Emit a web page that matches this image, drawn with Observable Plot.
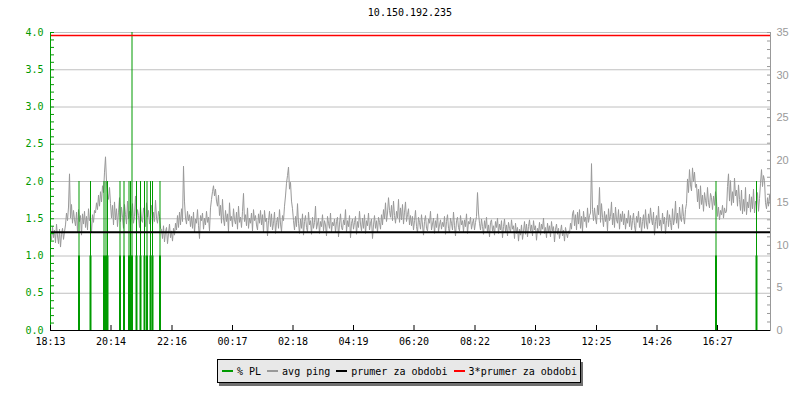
<!DOCTYPE html>
<html>
<head>
<meta charset="utf-8">
<script src="https://cdn.jsdelivr.net/npm/d3@7"></script>
<script src="https://cdn.jsdelivr.net/npm/@observablehq/plot@0.6"></script>
<style>
  body { margin: 0; background: #fff; }
  #wrap { position: relative; width: 800px; height: 400px; font-family: "DejaVu Sans Mono", monospace; }
  #chart { position: absolute; left: 0; top: 0; }
  #title { position: absolute; left: 50px; width: 720px; top: 7px; text-align: center; font-size: 10px; line-height: 12px; color: #000; }
  #legend { position: absolute; left: 217px; top: 359px; height: 22px; display: flex; align-items: center;
            border: 1px solid #000; background: #e8e8e8; box-shadow: 2px 3px 0 #707070; padding: 0 3px 0 4px;
            font-size: 10px; color: #000; white-space: pre; }
  .item { display: flex; align-items: center; margin-right: 6px; }
  .item:last-child { margin-right: 0; }
  .sw { display: inline-block; width: 11px; height: 2px; margin-right: 4px; }
</style>
</head>
<body>
<div id="wrap">
  <div id="chart"></div>
  <div id="title"></div>
  <div id="legend"></div>
</div>
<script>
// ---- data ----
const title = "10.150.192.235";
const tickMinutes = [0, 121, 243, 364, 485, 606, 727, 849, 970, 1092, 1213, 1334];
const tickLabels = ["18:13", "20:14", "22:16", "00:17", "02:18", "04:19", "06:20", "08:22", "10:23", "12:25", "14:26", "16:27"];
const spanMinutes = 1440;
const stepMinutes = 2;
// avg ping in ms, one value every 2 minutes starting 18:13
const avgPing = [
  11.4,10.6,12.2,10.9,11.8,10.3,12.5,11.1,10.2,11.9,9.8,11.3,12.0,10.7,11.6,
  12.4,13.8,12.9,14.5,18.4,13.2,14.8,12.6,14.1,13.0,
  12.3,13.9,11.6,14.2,12.8,13.5,11.2,13.7,12.5,14.0,12.1,13.4,11.8,14.3,12.9,13.1,11.5,13.6,12.7,14.1,
  13.8,15.0,14.2,15.9,14.6,16.3,15.1,17.0,16.2,18.6,20.4,17.5,16.1,15.4,16.8,14.9,
  13.2,14.7,12.4,15.1,13.0,14.3,12.2,13.9,15.6,12.8,14.5,13.3,12.0,14.8,13.6,12.5,15.2,13.1,14.0,12.3,
  13.7,14.9,12.6,13.4,15.8,12.9,14.2,13.5,12.1,14.6,13.0,12.7,14.4,13.8,12.2,15.0,13.3,14.1,12.5,13.6,
  14.7,12.4,13.9,12.8,15.3,13.2,12.6,14.0,13.4,12.0,
  11.9,10.8,12.3,10.4,11.6,12.1,10.2,11.4,12.5,10.9,11.7,10.5,12.0,11.2,
  12.6,11.8,13.5,12.1,13.9,12.4,14.3,12.8,19.3,15.1,13.2,12.5,14.0,12.9,13.6,12.2,
  13.4,12.0,13.9,11.5,13.1,12.6,14.2,12.3,10.8,13.5,12.9,13.8,11.9,13.2,12.4,14.0,12.7,13.3,11.7,14.4,
  15.4,16.3,17.0,15.8,16.6,15.2,14.6,15.9,
  13.5,14.7,12.6,15.4,13.1,12.3,14.1,12.8,13.7,11.6,15.0,12.9,13.4,12.2,14.3,13.0,12.5,13.9,11.9,14.6,
  12.7,13.3,12.1,14.0,16.1,12.8,13.6,12.3,14.4,12.0,13.2,12.6,13.8,11.7,14.2,12.9,13.5,12.4,11.8,13.7,12.6,14.1,
  12.4,13.6,11.5,14.1,12.8,13.2,11.1,12.9,14.0,12.2,13.7,11.8,12.6,13.9,11.4,12.7,13.3,12.0,14.2,12.5,11.6,13.5,12.9,14.6,
  15.8,17.3,18.2,19.2,16.6,17.4,15.2,14.3,
  12.9,11.8,13.4,12.2,14.9,12.6,11.4,13.1,12.0,13.7,
  11.2,12.8,13.5,12.1,11.6,13.9,12.4,12.9,11.3,13.3,
  12.0,12.7,14.6,11.9,12.5,13.2,11.4,12.8,12.2,13.6,
  11.7,12.9,12.4,11.1,13.4,12.6,12.0,13.8,11.6,12.7,
  12.3,13.1,11.5,12.8,13.3,11.0,12.5,13.7,12.1,11.8,
  13.0,12.4,14.2,11.6,12.9,12.2,13.5,10.9,12.6,13.1,
  11.9,12.7,13.4,11.3,12.8,12.1,14.0,12.5,11.7,13.2,
  12.0,13.6,11.4,12.9,12.3,13.8,11.8,12.6,13.1,10.8,
  12.4,13.5,12.0,12.9,11.5,13.3,12.7,11.9,
  13.6,12.4,14.2,13.1,15.0,12.8,13.8,15.6,14.1,13.3,
  14.7,12.9,15.2,13.5,12.6,14.0,13.2,15.4,12.7,14.4,
  13.0,14.8,12.5,13.9,15.1,12.8,13.6,14.3,12.4,13.5,
  12.3,13.4,11.8,12.9,14.1,12.2,11.5,13.3,12.7,11.9,
  13.6,12.4,11.2,12.8,13.5,12.0,11.7,13.1,12.6,14.0,
  11.8,12.5,13.2,11.4,12.9,12.1,13.7,11.6,12.4,13.0,
  11.9,12.7,12.2,13.4,11.3,12.8,13.6,12.0,11.5,13.2,
  12.6,11.8,13.9,12.3,11.1,12.9,13.3,12.1,11.7,13.5,
  12.4,12.9,11.6,13.0,12.2,13.7,11.4,12.8,12.5,13.3,
  11.9,12.6,13.1,11.8,12.7,13.4,
  16.2,13.8,
  12.6,11.8,13.1,12.2,11.3,12.9,12.0,13.3,11.5,12.4,
  11.0,12.7,13.0,11.7,12.3,11.2,12.8,12.1,13.2,11.4,
  12.5,11.8,12.9,10.9,12.2,13.1,11.6,12.4,11.1,12.7,
  12.0,11.5,13.0,11.9,12.3,10.8,12.6,11.4,12.1,10.5,
  11.9,11.2,12.4,10.7,11.6,12.8,11.3,12.5,11.0,12.2,
  13.0,11.7,12.4,11.1,12.9,11.8,12.3,10.6,12.0,11.5,
  12.7,11.2,12.5,11.9,13.2,11.4,12.1,10.9,12.6,11.6,
  12.3,11.0,12.8,11.7,12.2,10.4,11.9,12.5,11.3,12.0,
  10.8,11.6,12.4,11.1,11.8,10.5,12.1,11.4,10.9,11.7,
  11.4,12.6,11.9,13.7,14.1,12.3,13.6,11.8,13.9,12.5,
  14.2,12.0,13.4,11.6,14.0,12.8,13.3,12.1,14.4,12.7,13.5,
  13.8,19.6,14.2,
  12.9,14.4,13.2,12.5,14.7,13.6,16.8,12.7,14.9,13.3,
  12.2,14.0,12.8,13.6,11.7,14.3,12.9,13.4,15.1,12.4,
  13.8,12.1,14.5,13.0,12.6,14.2,11.9,13.7,12.8,14.0,
  12.4,13.7,11.9,13.2,12.6,14.1,12.2,13.5,11.8,12.9,
  13.8,12.3,11.6,13.4,12.7,14.0,12.1,13.3,11.5,12.8,
  13.6,12.0,14.2,12.5,11.9,13.7,12.6,14.4,13.1,12.4,
  13.9,11.2,12.8,13.5,12.0,14.6,12.3,13.0,11.7,13.8,
  12.5,13.3,11.4,12.9,14.1,12.2,13.6,12.7,11.8,14.3,
  12.4,13.1,15.2,12.6,13.8,12.0,14.5,13.2,12.8,14.8,
  13.4,12.5,14.2,14.9,
  17.8,16.2,18.9,17.1,16.4,19.1,17.5,18.6,16.8,17.2,
  15.1,16.6,14.3,17.0,14.8,15.9,14.0,16.2,15.3,14.6,
  16.8,15.0,14.4,16.1,15.6,14.2,15.8,14.7,16.3,15.2,
  13.4,14.5,13.0,14.1,13.6,14.7,13.2,14.4,13.8,14.0,
  16.9,18.4,15.2,17.6,14.7,16.3,15.0,17.9,15.8,16.5,14.6,17.1,15.4,
  14.1,16.5,13.7,15.4,14.0,16.8,13.6,15.1,14.4,16.0,
  13.9,15.7,14.3,16.6,13.8,15.2,14.7,16.2,14.0,15.5,
  17.3,18.9,16.9,18.2,17.6,
  15.0,14.3,15.6,14.6,15.9,14.8
];
// packet loss events (minutes after 18:13) and their values (% PL, left axis)
const plMinutes = [57, 80, 107, 111, 114, 139, 147, 157, 160, 163, 172, 180, 188, 193, 200, 204, 219, 1331, 1412];
const plValues  = [2, 2, 2, 2, 2, 2, 2, 2, 2, 4, 2, 2, 2, 2, 2, 2, 2, 2, 2];
const plBase = 1;
const meanPing = 11.55;
const plMax = 4;
const pingMax = 35;
const legendLabels = ["% PL", "avg ping", "prumer za obdobi", "3*prumer za obdobi"];

// ---- styles ----
const green = "#009a00", gray = "#999999", grid = "#c0c0c0";
const legendColors = [green, gray, "#000000", "#ff0000"];

// ---- build ----
const K = pingMax / plMax;
const pingData = avgPing.map((v, i) => ({t: i * stepMinutes, v}));
const plData = plMinutes.map((t, i) => ({t, v: plValues[i]}));

const chart = Plot.plot({
  width: 800, height: 400,
  marginLeft: 50, marginRight: 30, marginTop: 32, marginBottom: 70,
  style: {fontFamily: "'DejaVu Sans Mono', monospace", fontSize: "10px", background: "white", overflow: "visible"},
  x: {domain: [0, spanMinutes], axis: null},
  y: {domain: [0, plMax], axis: null},
  marks: [
    Plot.gridY(d3.range(0.5, plMax + 0.001, 0.5), {stroke: grid, strokeOpacity: 1}),
    Plot.lineY(pingData, {x: "t", y: d => d.v / K, stroke: gray, strokeWidth: 1}),
    Plot.ruleX(plData, {x: "t", y1: 0, y2: "v", stroke: green, strokeWidth: 1}),
    Plot.ruleX(plData, {x: "t", y1: 0, y2: plBase, stroke: green, strokeWidth: 2}),
    Plot.ruleY([meanPing / K], {stroke: "black", strokeWidth: 2}),
    Plot.ruleY([3 * meanPing / K], {stroke: "#ff0000", strokeWidth: 1.5}),
    // left axis
    Plot.axisY(d3.range(0, plMax + 0.001, 0.1), {anchor: "left", label: null, tickSize: 4, dx: 4, tickFormat: () => "", stroke: green}),
    Plot.axisY(d3.range(0, plMax + 0.001, 0.5), {anchor: "left", label: null, tickSize: 0, tickPadding: 7, tickFormat: d3.format(".1f"), fill: green}),
    Plot.ruleX([0], {stroke: green}),
    // right axis
    Plot.axisY(d3.range(0, pingMax + 0.001, 1).map(v => v / K), {anchor: "right", label: null, tickSize: 4, dx: -4, tickFormat: () => "", stroke: gray}),
    Plot.axisY(d3.range(0, pingMax + 0.001, 5).map(v => v / K), {anchor: "right", label: null, tickSize: 0, tickPadding: 6, tickFormat: d => String(Math.round(d * K)), fill: gray, fontFamily: "'Liberation Sans', sans-serif", fontSize: 11}),
    Plot.ruleX([spanMinutes], {stroke: gray}),
    // x axis
    Plot.ruleY([0], {stroke: "black"}),
    Plot.axisX(tickMinutes, {anchor: "bottom", label: null, tickSize: 5, dy: -5, tickFormat: () => "", stroke: "black"}),
    Plot.axisX(tickMinutes, {anchor: "bottom", label: null, tickSize: 0, tickPadding: 7, tickFormat: d => tickLabels[tickMinutes.indexOf(d)], fill: "black"})
  ]
});
document.getElementById("chart").appendChild(chart);
document.getElementById("title").textContent = title;

const leg = document.getElementById("legend");
legendLabels.forEach((lab, i) => {
  const it = document.createElement("span");
  it.className = "item";
  const sw = document.createElement("span");
  sw.className = "sw";
  sw.style.background = legendColors[i];
  it.appendChild(sw);
  it.appendChild(document.createTextNode(lab));
  leg.appendChild(it);
});
</script>
</body>
</html>
